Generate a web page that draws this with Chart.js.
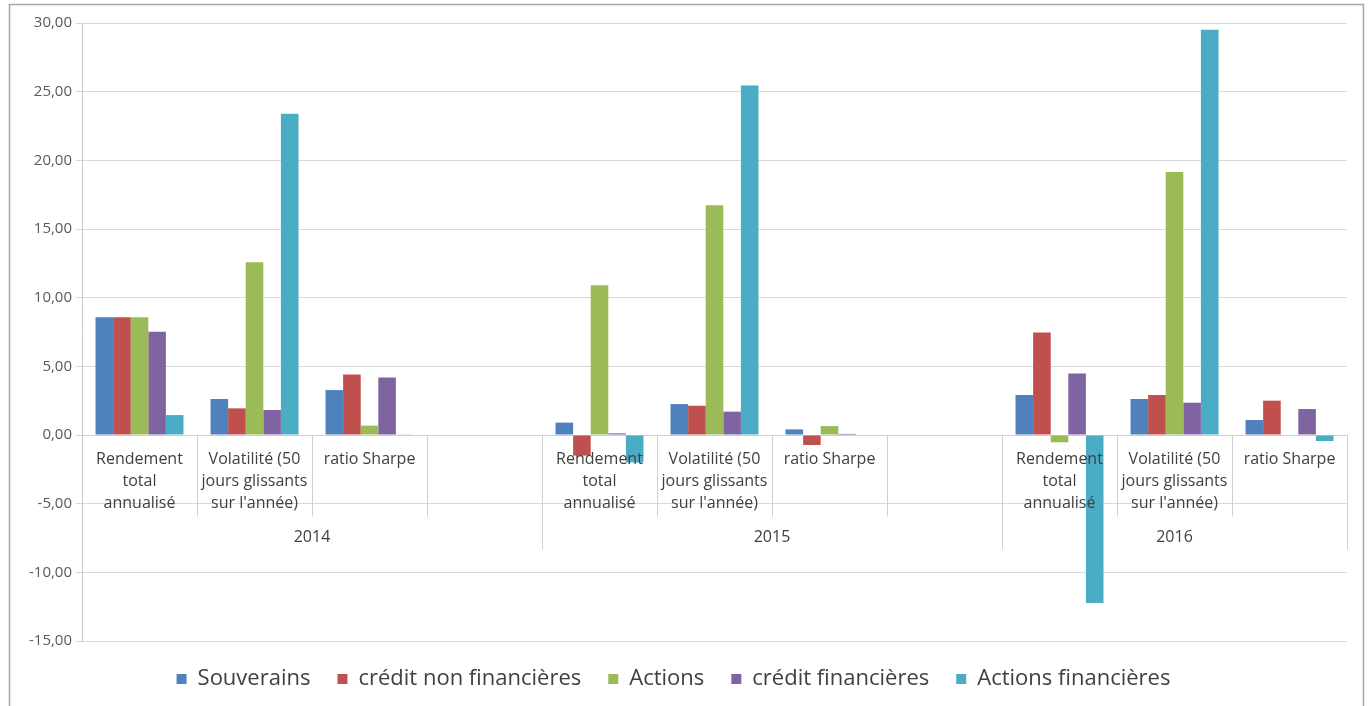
<!DOCTYPE html>
<html lang="fr">
<head>
<meta charset="utf-8">
<title>Rendement, volatilité et ratio Sharpe 2014-2016</title>
<script src="https://cdn.jsdelivr.net/npm/chart.js@4/dist/chart.umd.min.js"></script>
<style>
  html, body { margin: 0; padding: 0; background: #fff; }
  #wrap { width: 1371px; height: 706px; position: relative; }
</style>
</head>
<body>
<div id="wrap"><canvas id="chart"></canvas></div>
<script>
// categories (empty slot = gap between years)
const categories = [
  ["Rendement", "total", "annualisé"],
  ["Volatilité (50", "jours glissants", "sur l'année)"],
  ["ratio Sharpe"],
  "",
  ["Rendement", "total", "annualisé"],
  ["Volatilité (50", "jours glissants", "sur l'année)"],
  ["ratio Sharpe"],
  "",
  ["Rendement", "total", "annualisé"],
  ["Volatilité (50", "jours glissants", "sur l'année)"],
  ["ratio Sharpe"]
];
const years = ["2014", "2015", "2016"];
const yearSlots = [4, 4, 3];

const souverains        = [8.57, 2.62, 3.27, null, 0.9, 2.25, 0.41, null, 2.91, 2.62, 1.09];
const creditNonFin      = [8.57, 1.94, 4.41, null, -1.5, 2.13, -0.73, null, 7.47, 2.91, 2.5];
const actions           = [8.57, 12.58, 0.68, null, 10.9, 16.73, 0.65, null, -0.53, 19.15, 0];
const creditFin         = [7.51, 1.82, 4.19, null, 0.12, 1.7, 0.08, null, 4.48, 2.35, 1.89];
const actionsFin        = [1.45, 23.4, 0.05, null, -2.0, 25.45, 0, null, -12.24, 29.5, -0.44];

const yTicks = { min: -15, max: 30, step: 5 };

const fmt = v => v.toFixed(2).replace(".", ",");

// frame, category and year separators, year labels
const decorations = {
  id: "decorations",
  beforeDraw(chart) {
    const ctx = chart.ctx;
    ctx.save();
    ctx.strokeStyle = "#a6a6a6";
    ctx.lineWidth = 1.5;
    ctx.strokeRect(9.5, 4.5, 1354, 740);
    ctx.restore();
  },
  beforeDatasetsDraw(chart) {
    const { ctx, scales: { x, y } } = chart;
    const y0 = Math.round(y.getPixelForValue(0)) + 0.5;
    const half = (x.getPixelForValue(1) - x.getPixelForValue(0)) / 2;
    ctx.save();
    ctx.strokeStyle = "#d0d0d0";
    ctx.lineWidth = 1;
    // category separators
    for (let i = 1; i < categories.length; i++) {
      const px = Math.round(x.getPixelForValue(i) - half) + 0.5;
      ctx.beginPath();
      ctx.moveTo(px, y0);
      ctx.lineTo(px, y0 + 81);
      ctx.stroke();
    }
    // year separators + labels
    let start = 0;
    ctx.fillStyle = "#404040";
    ctx.font = "16px 'Open Sans', sans-serif";
    ctx.textAlign = "center";
    ctx.textBaseline = "middle";
    const edges = [];
    years.forEach((yr, k) => {
      const end = start + yearSlots[k];
      const left = x.getPixelForValue(start) - half;
      const right = x.getPixelForValue(end - 1) + half;
      edges.push(Math.round(right) + 0.5);
      ctx.fillText(yr, (left + right) / 2, y0 + 102);
      start = end;
    });
    edges.forEach(px => {
      ctx.beginPath();
      ctx.moveTo(px, y0);
      ctx.lineTo(px, y0 + 114);
      ctx.stroke();
    });
    ctx.restore();
  }
};

const mk = (label, data, color) => ({
  label, data, backgroundColor: color, borderWidth: 0,
  barPercentage: 1, categoryPercentage: 0.765
});

new Chart(document.getElementById("chart"), {
  type: "bar",
  data: {
    labels: categories,
    datasets: [
      mk("Souverains", souverains, "#4F81BD"),
      mk("crédit non financières", creditNonFin, "#C0504D"),
      mk("Actions", actions, "#9BBB59"),
      mk("crédit financières", creditFin, "#8064A2"),
      mk("Actions financières", actionsFin, "#4BACC6")
    ]
  },
  options: {
    responsive: true,
    maintainAspectRatio: false,
    animation: false,
    layout: { padding: { left: 0, right: 24, top: 23, bottom: 6 } },
    plugins: {
      tooltip: { enabled: false },
      legend: {
        position: "bottom",
        labels: {
          boxWidth: 10,
          boxHeight: 10,
          padding: 27,
          color: "#404040",
          font: { family: "'Open Sans', sans-serif", size: 22 }
        }
      }
    },
    scales: {
      x: {
        position: { y: 0 },
        grid: { display: false, drawTicks: false },
        border: { display: true, color: "#d0d0d0" },
        ticks: {
          z: 1,
          autoSkip: false,
          maxRotation: 0,
          minRotation: 0,
          padding: 14,
          color: "#404040",
          font: { family: "'Open Sans', sans-serif", size: 16, lineHeight: 1.35 }
        }
      },
      y: {
        min: yTicks.min,
        max: yTicks.max,
        afterFit: s => { s.width = 82; },
        grid: { color: "#d9d9d9", tickLength: 6 },
        border: { display: true, color: "#c8c8c8" },
        ticks: {
          stepSize: yTicks.step,
          padding: 4,
          color: "#595959",
          font: { family: "'Open Sans', sans-serif", size: 15 },
          callback: v => fmt(v)
        }
      }
    }
  },
  plugins: [decorations]
});
</script>
</body>
</html>
